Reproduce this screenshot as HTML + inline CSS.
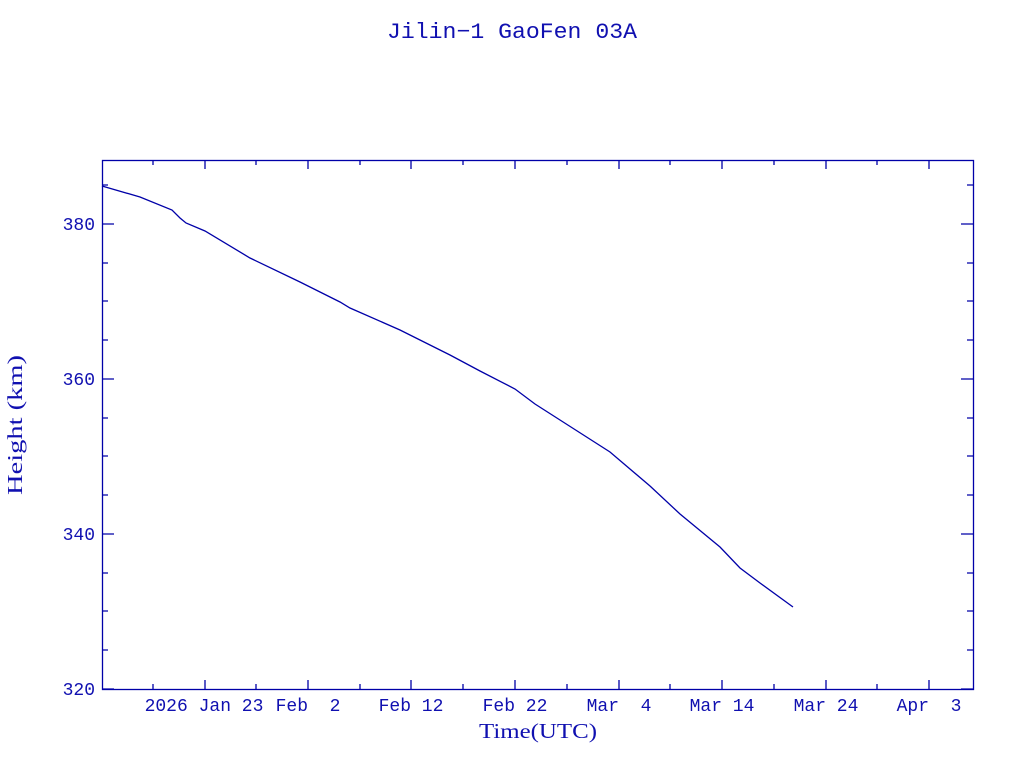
<!DOCTYPE html>
<html><head><meta charset="utf-8"><style>
html,body{margin:0;padding:0;background:#fff;}
svg{display:block;}
text{font-family:"Liberation Mono",monospace;fill:#1010b0;}
</style></head><body>
<svg width="1024" height="768" viewBox="0 0 1024 768">
<g stroke="#0000a8" stroke-width="1.3" fill="none">
<rect x="102.5" y="160.5" width="871" height="529"/>
<path d="M205 689v-9M308 689v-9M411 689v-9M515 689v-9M619 689v-9M722 689v-9M826 689v-9M929 689v-9
M153 689v-5M256 689v-5M360 689v-5M463 689v-5M567 689v-5M670 689v-5M774 689v-5M877 689v-5
M205 160v9M308 160v9M411 160v9M515 160v9M619 160v9M722 160v9M826 160v9M929 160v9
M153 160v5M256 160v5M360 160v5M463 160v5M567 160v5M670 160v5M774 160v5M877 160v5
M102 224h12M102 379h12M102 534h12M102 689h12
M973 224h-12M973 379h-12M973 534h-12M973 689h-12
M102 185h6M102 263h6M102 301h6M102 340h6M102 418h6M102 456h6M102 495h6M102 573h6M102 611h6M102 650h6
M973 185h-6M973 263h-6M973 301h-6M973 340h-6M973 418h-6M973 456h-6M973 495h-6M973 573h-6M973 611h-6M973 650h-6"/>
<polyline points="102,186 140,197 172,210 180,218 186,223 205,231 250,258 300,282 340,302 350,308 400,330 450,355 480,371 515,389 535,404 560,420 610,452 650,486 680,514 720,547 740,568 760,583 793,607"/>
</g>
<text x="387" y="38" font-size="22" textLength="250" lengthAdjust="spacingAndGlyphs">Jilin−1 GaoFen 03A</text>
<g font-size="18" text-anchor="end">
<text x="95" y="230">380</text>
<text x="95" y="385">360</text>
<text x="95" y="540">340</text>
<text x="95" y="695">320</text>
</g>
<g font-size="18" text-anchor="middle">
<text x="204" y="711">2026 Jan 23</text>
<text x="308" y="711" xml:space="preserve">Feb  2</text>
<text x="411" y="711">Feb 12</text>
<text x="515" y="711">Feb 22</text>
<text x="619" y="711" xml:space="preserve">Mar  4</text>
<text x="722" y="711">Mar 14</text>
<text x="826" y="711">Mar 24</text>
<text x="929" y="711" xml:space="preserve">Apr  3</text>
</g>
<text x="479" y="738" font-size="21" textLength="118" lengthAdjust="spacingAndGlyphs" style="font-family:'Liberation Serif',serif">Time(UTC)</text>
<text transform="translate(22,495) rotate(-90)" font-size="21" textLength="140" lengthAdjust="spacingAndGlyphs" style="font-family:'Liberation Serif',serif">Height (km)</text>
</svg>
</body></html>
